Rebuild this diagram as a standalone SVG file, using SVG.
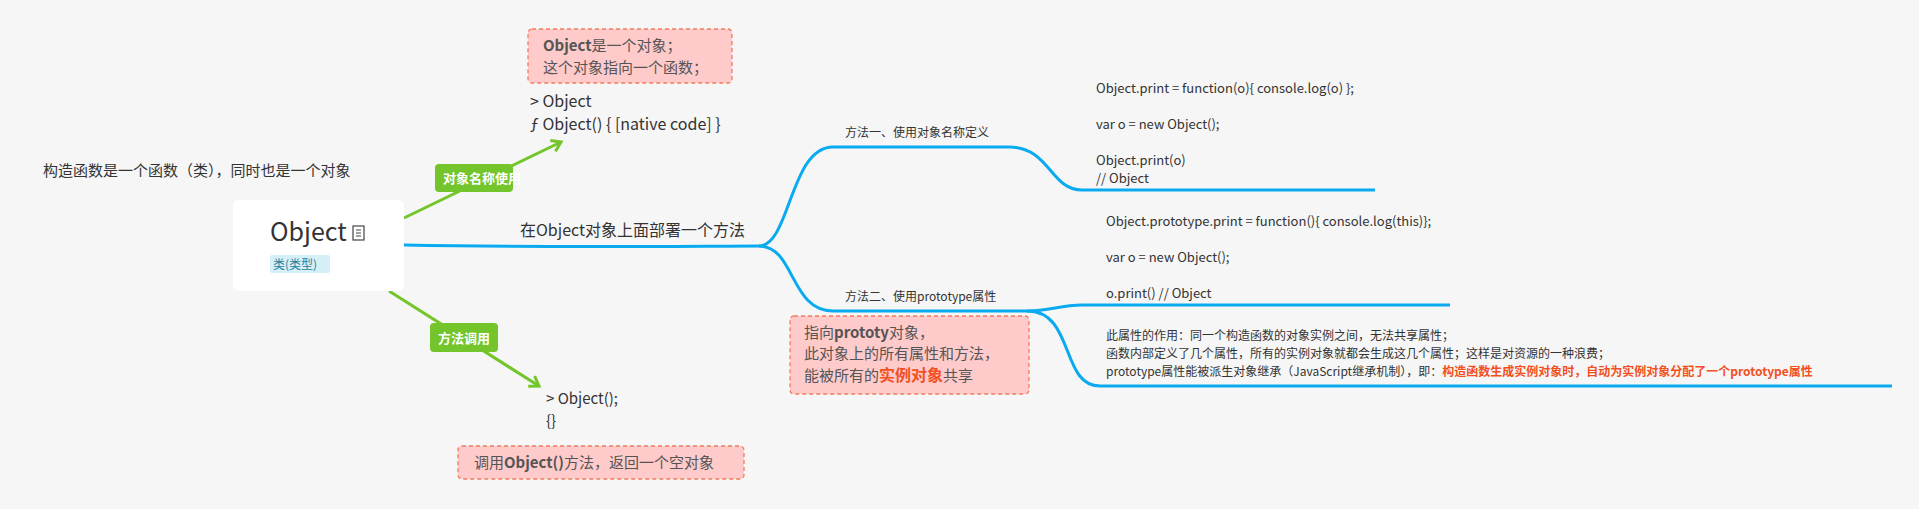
<svg xmlns="http://www.w3.org/2000/svg" width="1919" height="509" viewBox="0 0 1919 509">
<style>
text{font-family:"Microsoft YaHei","Noto Sans CJK SC","Liberation Sans",sans-serif;fill:#333}
.blue{fill:none;stroke:#0aaaf0;stroke-width:3}
.green{fill:none;stroke:#73c52b;stroke-width:3}
.note{fill:#ffcaca;stroke:#f47b5c;stroke-width:1.3;stroke-dasharray:4 3}
.tag{fill:#73c52b}
.tagt{fill:#fff;font-size:13px;font-weight:bold}
.code{font-size:13px}
.red{fill:#f2501f;font-weight:bold}
</style>
<defs>
<marker id="ah" markerWidth="14" markerHeight="14" refX="10" refY="7" orient="auto" markerUnits="userSpaceOnUse">
<path d="M1,1 L10,7 L1,13" fill="none" stroke="#73c52b" stroke-width="3"/>
</marker>
</defs>
<rect width="1919" height="509" fill="#f6f6f6"/>
<g id="connectors">
<path class="blue" d="M404,245 C550,248 700,246 759,246 C790,246 790,147 833,147 L1009,147 C1050,147 1050,190 1082,190 L1375,190"/>
<path class="blue" d="M759,246 C795,246 790,311 833,311 L1027,311 C1050,311 1060,305 1082,305 L1450,305"/>
<path class="blue" d="M1027,311 C1075,311 1060,386 1100,386 L1892,386"/>
<path class="green" d="M404,218 L561,142" marker-end="url(#ah)"/>
<path class="green" d="M389,291 L539,386" marker-end="url(#ah)"/>
</g>
<g id="root">
<rect x="233" y="200" width="171" height="91" rx="6" fill="#fff"/>
<text x="270" y="241" font-size="25">Object</text>
<g fill="none" stroke="#444" stroke-width="1.2"><rect x="353" y="226" width="11" height="14"/><path d="M356,230h5M356,233h5M356,236h5"/></g>
<rect x="270" y="255" width="60" height="18" rx="2" fill="#d5eff7"/>
<text x="273" y="269" font-size="12" style="fill:#2c7f9c">类(类型)</text>
</g>
<g id="lefttext"><text x="43" y="176" font-size="15">构造函数是一个函数（类），同时也是一个对象</text></g>
<g id="tag1"><rect class="tag" x="435" y="164" width="78" height="28" rx="4"/><text class="tagt" x="443" y="183">对象名称使用</text></g>
<g id="tag2"><rect class="tag" x="430" y="323" width="68" height="29" rx="4"/><text class="tagt" x="438" y="343">方法调用</text></g>
<g id="note1"><rect class="note" x="528" y="29" width="204" height="54" rx="4"/>
<text x="543" y="51" font-size="15" style="fill:#555"><tspan font-weight="bold">Object</tspan>是一个对象；</text>
<text x="543" y="73" font-size="15" style="fill:#555">这个对象指向一个函数；</text></g>
<g id="out1"><text x="530" y="107" font-size="16">&gt; Object</text><text x="530" y="130" font-size="16">ƒ Object() { [native code] }</text></g>
<g id="out2"><text x="546" y="404" font-size="15">&gt; Object();</text><text x="546" y="426" font-size="15">{}</text></g>
<g id="note2"><rect class="note" x="458" y="446" width="286" height="33" rx="4"/>
<text x="474" y="468" font-size="15" style="fill:#555">调用<tspan font-weight="bold">Object()</tspan>方法，返回一个空对象</text></g>
<g id="main"><text x="520" y="236" font-size="16">在Object对象上面部署一个方法</text></g>
<g id="m1"><text x="845" y="137" font-size="12">方法一、使用对象名称定义</text></g>
<g id="m2"><text x="845" y="301" font-size="12">方法二、使用prototype属性</text></g>
<g id="note3"><rect class="note" x="790" y="316" width="239" height="78" rx="4"/>
<text x="804" y="338" font-size="15" style="fill:#555">指向<tspan font-weight="bold">prototy</tspan>对象，</text>
<text x="804" y="359" font-size="15" style="fill:#555">此对象上的所有属性和方法，</text>
<text x="804" y="381" font-size="15" style="fill:#555">能被所有的<tspan class="red" font-size="16">实例对象</tspan>共享</text></g>
<g id="code1" class="code">
<text x="1096" y="93" class="code">Object.print = function(o){ console.log(o) };</text>
<text x="1096" y="129" class="code">var o = new Object();</text>
<text x="1096" y="165" class="code">Object.print(o)</text>
<text x="1096" y="183" class="code">// Object</text></g>
<g id="code2">
<text x="1106" y="226" class="code">Object.prototype.print = function(){ console.log(this)};</text>
<text x="1106" y="262" class="code">var o = new Object();</text>
<text x="1106" y="298" class="code">o.print() // Object</text></g>
<g id="desc">
<text x="1106" y="340" font-size="12">此属性的作用：同一个构造函数的对象实例之间，无法共享属性；</text>
<text x="1106" y="358" font-size="12">函数内部定义了几个属性，所有的实例对象就都会生成这几个属性；这样是对资源的一种浪费；</text>
<text x="1106" y="376" font-size="12">prototype属性能被派生对象继承（JavaScript继承机制），即：<tspan class="red">构造函数生成实例对象时，自动为实例对象分配了一个prototype属性</tspan></text></g>
</svg>
